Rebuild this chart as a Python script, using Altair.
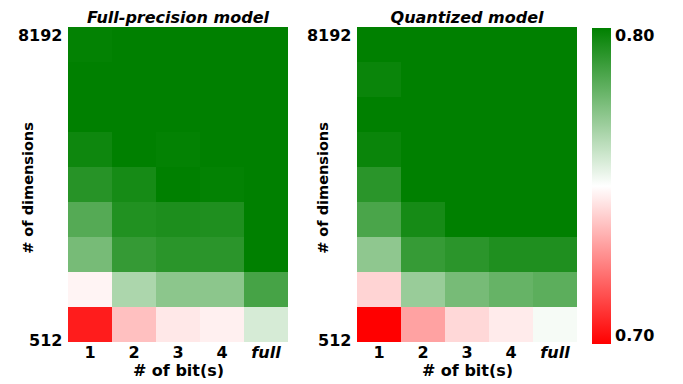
import altair as alt
import pandas as pd

dims = [512, 724, 1024, 1448, 2048, 2896, 4096, 5793, 8192]
bits = ["1", "2", "3", "4", "full"]

# rows: 512 (bottom) -> 8192 (top); columns follow `bits`
full_precision = [
    [0.7055, 0.7376, 0.7455, 0.7470, 0.7580],
    [0.7478, 0.7662, 0.7725, 0.7725, 0.7863],
    [0.7767, 0.7896, 0.7918, 0.7916, 0.8020],
    [0.7833, 0.7935, 0.7943, 0.7940, 0.8050],
    [0.7924, 0.7957, 0.8010, 0.7994, 0.8060],
    [0.7973, 0.8010, 0.7994, 0.8020, 0.8070],
    [0.8000, 0.8020, 0.8030, 0.8030, 0.8080],
    [0.8010, 0.8030, 0.8040, 0.8040, 0.8080],
    [0.7994, 0.8030, 0.8040, 0.8050, 0.8090],
]
quantized = [
    [0.6990, 0.7318, 0.7424, 0.7460, 0.7517],
    [0.7416, 0.7700, 0.7767, 0.7800, 0.7820],
    [0.7720, 0.7894, 0.7916, 0.7940, 0.7940],
    [0.7855, 0.7957, 0.8010, 0.8020, 0.8020],
    [0.7917, 0.8010, 0.8030, 0.8030, 0.8040],
    [0.7980, 0.8020, 0.8030, 0.8040, 0.8050],
    [0.8000, 0.8030, 0.8040, 0.8050, 0.8050],
    [0.7980, 0.8030, 0.8040, 0.8050, 0.8060],
    [0.8010, 0.8040, 0.8050, 0.8060, 0.8060],
]

FONT = "DejaVu Sans"
PLOT_H = 315


def to_df(matrix):
    recs = []
    for i, (d, row) in enumerate(zip(dims, matrix)):
        for b, v in zip(bits, row):
            recs.append({"dim": d, "idx": i, "idx_end": i + 1, "bit": b, "acc": v})
    return pd.DataFrame(recs)


color_scale = alt.Scale(
    domain=[0.70, 0.75, 0.80],
    range=["#ff0000", "#ffffff", "#008000"],
    interpolate="rgb",
    clamp=True,
)

legend = alt.Legend(
    title=None,
    type="gradient",
    values=[0.70, 0.80],
    format=".2f",
    gradientLength=316,
    gradientThickness=19,
    gradientStrokeWidth=0,
    labelFont=FONT,
    labelFontSize=16,
    labelFontWeight="bold",
    labelColor="black",
    labelOffset=4,
    direction="vertical",
    orient="none",
    legendX=524,
    legendY=1,
)


def panel(matrix, title, title_x):
    df = to_df(matrix)
    return (
        alt.Chart(
            df,
            title=alt.TitleParams(
                title, fontStyle="italic", fontWeight="bold", fontSize=16,
                font=FONT, color="black", offset=1,
            ),
        )
        .mark_rect(strokeWidth=0)
        .encode(
            x=alt.X(
                "bit:O",
                sort=bits,
                scale=alt.Scale(paddingInner=0, paddingOuter=0),
                axis=alt.Axis(
                    title="# of bit(s)",
                    labelAngle=0,
                    ticks=False,
                    domain=False,
                    labelPadding=2,
                    titlePadding=2,
                    labelFontStyle={
                        "condition": {"test": "datum.value == 'full'", "value": "italic"},
                        "value": "normal",
                    },
                ),
            ),
            y=alt.Y(
                "idx:Q",
                scale=alt.Scale(domain=[0, 9], nice=False, zero=True),
                axis=alt.Axis(
                    title="# of dimensions",
                    values=[0.03, 8.75],
                    labelExpr="datum.value < 4 ? '512' : '8192'",
                    ticks=False,
                    domain=False,
                    grid=False,
                    labelPadding=6,
                    titleX=title_x,
                    titleY=PLOT_H / 2 + 3,
                    titleBaseline="middle",
                    titleFontSize=14.5,
                ),
            ),
            y2="idx_end",
            color=alt.Color("acc:Q", scale=color_scale, legend=legend),
        )
        .properties(width=220, height=PLOT_H)
    )


left = panel(full_precision, "Full-precision model", -40)
right = panel(quantized, "Quantized model", -34)

chart = (
    alt.hconcat(left, right, spacing=18)
    .properties(padding={"left": 9, "top": 2, "right": 0, "bottom": 0})
    .configure_view(strokeWidth=0)
    .configure_axis(
        labelFont=FONT,
        labelFontSize=16,
        labelFontWeight="bold",
        labelColor="black",
        titleFont=FONT,
        titleFontSize=16,
        titleFontWeight="bold",
        titleColor="black",
    )
)

chart.save("out.html", embed_options={"renderer": "svg", "actions": False})
